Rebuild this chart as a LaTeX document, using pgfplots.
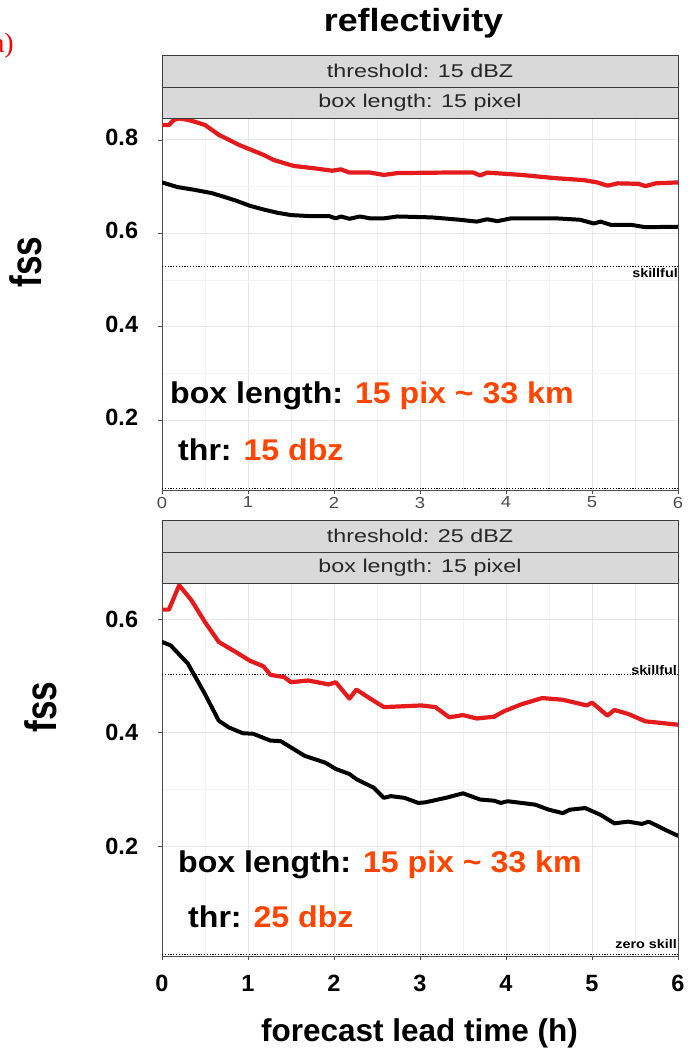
\documentclass[border=0pt]{standalone}
\usepackage{pgfplots}
\pgfplotsset{compat=1.18}
\usepackage{fontspec}
\setmainfont{Liberation Sans}
\newfontfamily\stripfont{Liberation Sans}[FakeStretch=1.26]
\newfontfamily\ggfont{Liberation Sans}[FakeStretch=1.15]
\newfontfamily\titlefont{Liberation Sans}[FakeStretch=1.12]
\newfontfamily\fssfont{Liberation Sans}[FakeStretch=0.8]
\newfontfamily\annfont{Liberation Sans}[FakeStretch=1.07]
\newfontfamily\seriffont{Liberation Serif}
\definecolor{lred}{RGB}{228,26,28}
\definecolor{ored}{RGB}{255,69,0}
\definecolor{stripgray}{RGB}{217,217,217}
\definecolor{gridmaj}{RGB}{232,232,232}
\definecolor{gridmin}{RGB}{243,243,243}
\definecolor{axgray}{RGB}{77,77,77}
\definecolor{stripedge}{RGB}{60,60,60}

\pgfplotsset{
  panel/.style={
    width=516pt, scale only axis,
    xmin=0, xmax=6, xtick={0,1,2,3,4,5,6},
    minor x tick num=1, minor y tick num=1,
    ytick={0.2,0.4,0.6,0.8},
    yticklabels={0.2,0.4,0.6,0.8},
    xticklabels={0,1,2,3,4,5,6},
    grid=both,
    major grid style={gridmaj, line width=0.9pt},
    minor grid style={gridmin, line width=0.6pt},
    axis line style={axgray, line width=0.8pt},
    tick style={axgray, line width=0.8pt},
    tick align=outside, major tick length=4pt, minor tick length=0pt,
    xtick pos=bottom, ytick pos=left,
    yticklabel style={font=\bfseries\fontsize{23.5}{23.5}\selectfont, text=black, anchor=east, inner sep=0pt, xshift=-19.7pt},
    /pgf/number format/assume math mode=true,
    clip=true,
  },
  redline/.style={color=lred, line width=4.2pt, line join=round, line cap=round},
  blackline/.style={color=black, line width=4pt, line join=round, line cap=round},
  refline/.style={color=black, line width=0.9pt, dash pattern=on 1.2pt off 1.6pt},
}

\begin{document}
\begin{tikzpicture}[x=1pt,y=1pt]
\path[use as bounding box] (0,0) rectangle (692,1052);

% ---------- top panel ----------
\begin{axis}[panel, at={(162pt,562pt)}, anchor=south west, height=372pt,
  ymin=0.05, ymax=0.847,
  yticklabel style={yshift=2.5pt},
  xticklabel style={font=\ggfont\fontsize{16}{16}\selectfont, text=axgray, inner sep=0pt, anchor=north, yshift=-2.7pt}]
\addplot[refline] coordinates {(0,0.528) (6,0.528)};
\addplot[refline] coordinates {(0,0.054) (6,0.054)};
\addplot[blackline] coordinates {
(0,0.709) (0.18,0.699) (0.38,0.693) (0.58,0.686) (0.74,0.677) (0.86,0.670)
(1.02,0.659) (1.18,0.651) (1.34,0.644) (1.5,0.639) (1.7,0.637) (1.94,0.637)
(2.02,0.632) (2.08,0.636) (2.18,0.631) (2.3,0.636) (2.42,0.632) (2.58,0.632)
(2.74,0.636) (3.14,0.634) (3.46,0.629) (3.66,0.625) (3.78,0.630) (3.9,0.626)
(4.06,0.632) (4.58,0.632) (4.86,0.629) (5.02,0.621) (5.1,0.625) (5.22,0.618)
(5.46,0.618) (5.62,0.613) (6.0,0.614)};
\addplot[redline] coordinates {
(0,0.832) (0.08,0.832) (0.14,0.843) (0.2,0.846) (0.3,0.843) (0.38,0.839)
(0.5,0.832) (0.66,0.811) (0.78,0.800) (0.9,0.789) (1.06,0.777) (1.18,0.768)
(1.3,0.757) (1.46,0.748) (1.54,0.744) (1.78,0.739) (1.98,0.734) (2.08,0.737)
(2.18,0.730) (2.42,0.730) (2.58,0.725) (2.74,0.729) (3.26,0.730) (3.62,0.730)
(3.7,0.724) (3.78,0.730) (4.18,0.725) (4.58,0.718) (4.9,0.714) (5.06,0.709)
(5.18,0.702) (5.3,0.707) (5.54,0.706) (5.62,0.701) (5.74,0.707) (6.0,0.709)};
\node[anchor=north east, inner sep=0pt, font=\ggfont\bfseries\fontsize{12.5}{12.5}\selectfont] at (axis cs:6,0.526) {skillful};
\end{axis}

% ---------- bottom panel ----------
\begin{axis}[panel, at={(162pt,96pt)}, anchor=south west, height=373pt,
  ymin=0.006, ymax=0.664,
  ytick={0.2,0.4,0.6}, yticklabels={0.2,0.4,0.6},
  xticklabel style={font=\bfseries\fontsize{23.5}{23.5}\selectfont, text=black, inner sep=0pt, anchor=north, yshift=-15pt}]
\addplot[refline] coordinates {(0,0.503) (6,0.503)};
\addplot[refline] coordinates {(0,0.008) (6,0.008)};
\addplot[blackline] coordinates {
(0,0.560) (0.1,0.554) (0.3,0.522) (0.5,0.468) (0.66,0.421) (0.78,0.409)
(0.94,0.399) (1.06,0.398) (1.26,0.386) (1.38,0.385) (1.66,0.359) (1.9,0.347)
(2.02,0.336) (2.18,0.327) (2.26,0.318) (2.34,0.312) (2.46,0.303) (2.58,0.285)
(2.66,0.288) (2.82,0.285) (2.98,0.276) (3.06,0.277) (3.3,0.285) (3.5,0.293)
(3.7,0.282) (3.86,0.280) (3.94,0.276) (4.02,0.279) (4.34,0.273) (4.5,0.264)
(4.66,0.258) (4.74,0.264) (4.92,0.267) (5.1,0.255) (5.26,0.240) (5.42,0.243)
(5.58,0.239) (5.66,0.243) (5.86,0.228) (6.0,0.218)};
\addplot[redline] coordinates {
(0,0.617) (0.08,0.617) (0.2,0.660) (0.34,0.634) (0.5,0.595) (0.66,0.560)
(0.86,0.542) (1.02,0.527) (1.18,0.517) (1.26,0.502) (1.42,0.498) (1.5,0.489)
(1.7,0.492) (1.94,0.485) (2.02,0.489) (2.18,0.460) (2.26,0.476) (2.38,0.464)
(2.58,0.445) (3.02,0.448) (3.18,0.445) (3.34,0.427) (3.5,0.431) (3.66,0.425)
(3.86,0.428) (3.98,0.438) (4.18,0.450) (4.42,0.461) (4.66,0.458) (4.94,0.448)
(5.0,0.453) (5.18,0.430) (5.26,0.440) (5.42,0.433) (5.62,0.420) (6.0,0.414)};
\node[anchor=base east, inner sep=0pt, font=\ggfont\bfseries\fontsize{12.5}{12.5}\selectfont] at (axis cs:5.99,0.503) {skillful};
\node[anchor=base east, inner sep=0pt, font=\ggfont\bfseries\fontsize{12.5}{12.5}\selectfont] at (axis cs:5.99,0.020) {zero skill};
\end{axis}

% ---------- strips ----------
\foreach \ya/\yb/\txt in {997/965/{threshold: 15 dBZ}, 965/934/{box length: 15 pixel}, 532/500/{threshold: 25 dBZ}, 500/469/{box length: 15 pixel}} {
  \filldraw[fill=stripgray, draw=stripedge, line width=0.9pt] (162,\yb) rectangle (678,\ya);
  \node[anchor=center, inner sep=0pt, text=black!85, font=\stripfont\fontsize{18.5}{18.5}\selectfont] at (420,{(\ya+\yb)/2}) {\txt};
}

% ---------- titles and labels ----------
\node[anchor=base, inner sep=0pt, font=\titlefont\bfseries\fontsize{32}{32}\selectfont] at (413.5,1020.3) {reflectivity};
\node[anchor=base east, inner sep=0pt, text=red, font=\seriffont\fontsize{28}{28}\selectfont] at (14,999) {(a)};
\node[rotate=90, inner sep=0pt, font=\fssfont\bfseries\fontsize{44}{44}\selectfont] at (26,790) {fss};
\node[rotate=90, inner sep=0pt, font=\fssfont\bfseries\fontsize{44}{44}\selectfont] at (41,345) {fss};
\node[anchor=base, inner sep=0pt, font=\bfseries\fontsize{31.5}{31.5}\selectfont] at (419.5,10) {forecast lead time (h)};

% ---------- annotations ----------
\node[anchor=base west, inner sep=0pt, font=\annfont\bfseries\fontsize{30}{30}\selectfont] at (170,648) {box length: \textcolor{ored}{15 pix \char"7E{} 33 km}};
\node[anchor=base west, inner sep=0pt, font=\annfont\bfseries\fontsize{30}{30}\selectfont] at (178,591) {thr: \textcolor{ored}{15 dbz}};
\node[anchor=base west, inner sep=0pt, font=\annfont\bfseries\fontsize{30}{30}\selectfont] at (178,179) {box length: \textcolor{ored}{15 pix \char"7E{} 33 km}};
\node[anchor=base west, inner sep=0pt, font=\annfont\bfseries\fontsize{30}{30}\selectfont] at (188,124) {thr: \textcolor{ored}{25 dbz}};
\end{tikzpicture}
\end{document}
